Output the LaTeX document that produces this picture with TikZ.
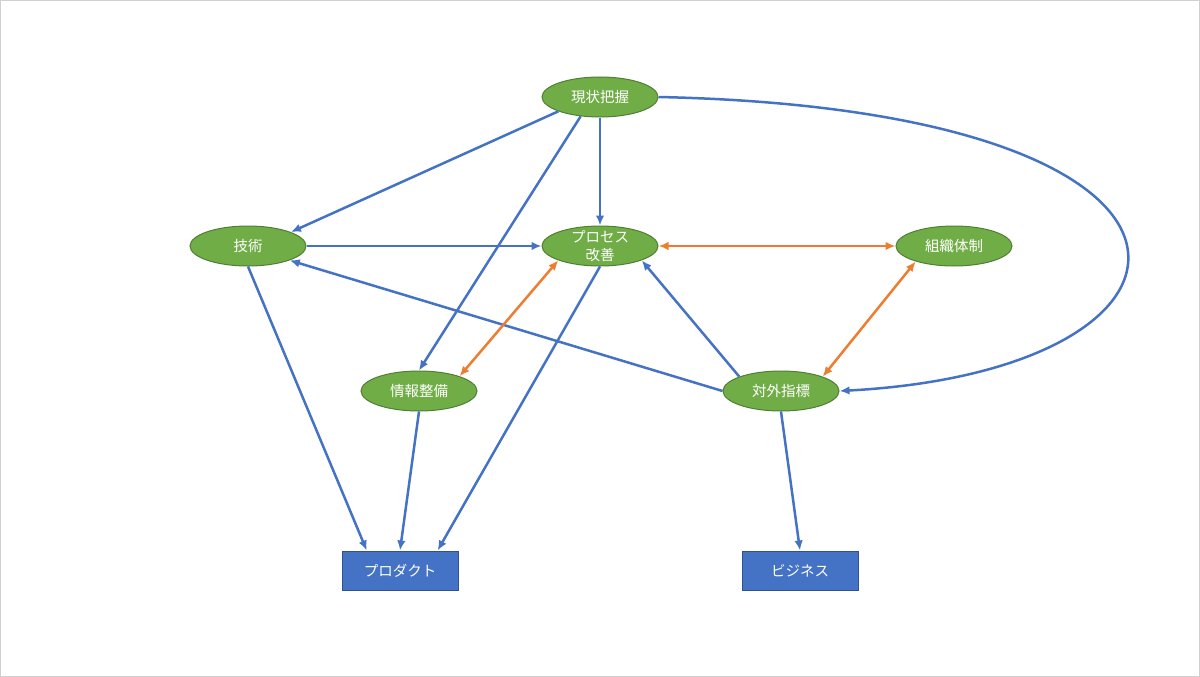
\documentclass[tikz,border=0pt]{standalone}
\usepackage{fontspec}
\newfontfamily\jp{Noto Sans CJK JP}
\usetikzlibrary{shapes.geometric,arrows.meta}
\definecolor{ngreen}{HTML}{70AD47}
\definecolor{ngreenline}{HTML}{507E32}
\definecolor{nblue}{HTML}{4472C4}
\definecolor{nblueline}{HTML}{2F528F}
\definecolor{norange}{HTML}{ED7D31}
\definecolor{frame}{HTML}{D0D0D0}
\begin{document}
\begin{tikzpicture}[x=1pt,y=-1pt,
  ell/.style={ellipse,fill=ngreen,draw=ngreenline,line width=1pt,minimum width=116pt,minimum height=40pt,inner sep=0pt,text=white,font=\jp\fontsize{14.5}{18}\selectfont},
  txt/.style={text=white,font=\jp\fontsize{14.5}{18}\selectfont,align=center,inner sep=0pt},
  box/.style={rectangle,fill=nblue,draw=nblueline,line width=1pt,minimum width=116pt,minimum height=39pt,inner sep=0pt,text=white,font=\jp\fontsize{14.5}{18}\selectfont},
  tip/.tip={Latex[length=10pt,width=8.5pt]},
  barrow/.style={draw=nblue,line width=2.5pt,-tip},
  oarrow/.style={draw=norange,line width=2.5pt,tip-tip}
]
\useasboundingbox (0,0) rectangle (1200,677);
\draw[frame,line width=1pt] (0.5,0.5) rectangle (1199.5,676.5);

\node[ell] (gen) at (600,97) {現状把握};
\node[ell] (pro) at (600,246) {};
\node[txt] (protxt) at (600,246) {プロセス\\改善};
\node[ell] (gi) at (248,246) {技術};
\node[ell] (so) at (954,246) {組織体制};
\node[ell] (jou) at (419,391) {情報整備};
\node[ell] (tai) at (781,391) {対外指標};
\node[box] (prod) at (400,570.5) {プロダクト};
\node[box] (biz) at (800,570.5) {ビジネス};

\draw[barrow] (gen.-161) -- (gi.18);
\draw[barrow] (gen.-135) -- (jou.north);
\draw[barrow] (gen.south) -- (pro.north);
\draw[barrow] (gen.east) .. controls +(606,13) and +(396,-21) .. (tai.east);
\draw[barrow] (gi.east) -- (pro.west);
\draw[barrow] (gi.south) -- (prod.149);
\draw[barrow] (pro.south) -- (prod.28);
\draw[barrow] (jou.south) -- (prod.north);
\draw[barrow] (tai.west) -- (gi.-19);
\draw[barrow] (tai.161) -- (pro.-19);
\draw[barrow] (tai.south) -- (biz.north);

\draw[oarrow] (pro.east) -- (so.west);
\draw[oarrow] (pro.-161) -- (jou.20);
\draw[oarrow] (so.-158) -- (tai.19);
\end{tikzpicture}
\end{document}
